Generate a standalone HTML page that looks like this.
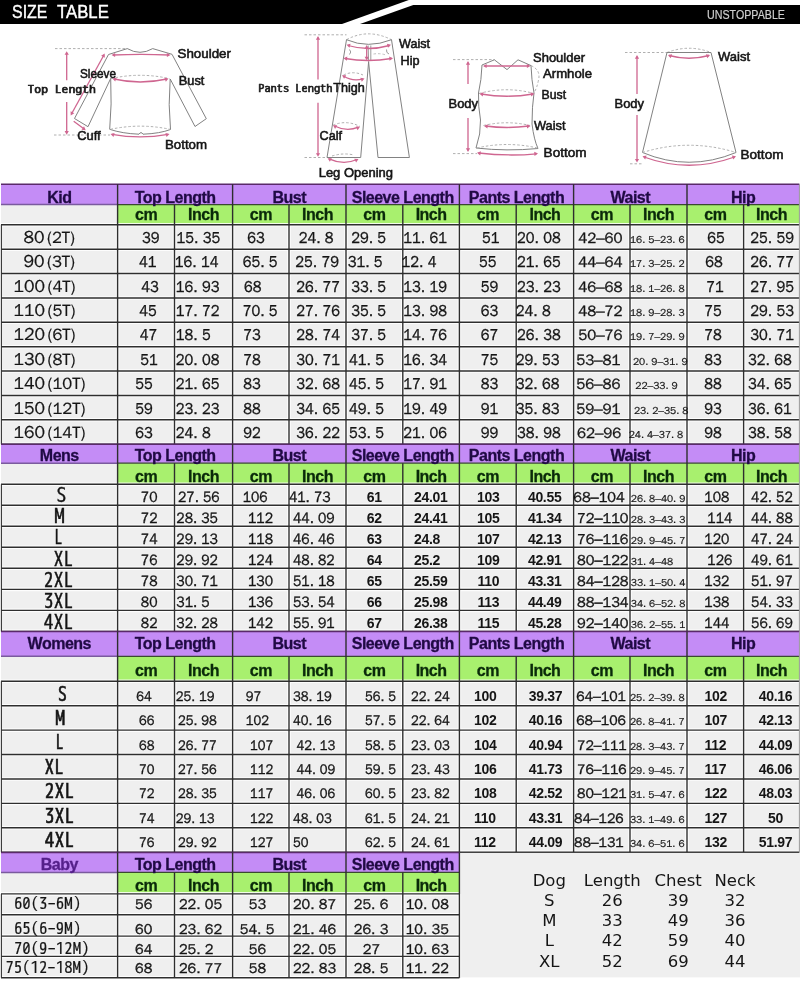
<!DOCTYPE html>
<html><head><meta charset="utf-8"><title>Size Table</title>
<style>
html,body{margin:0;padding:0;background:#fff;}
body{width:800px;height:981px;overflow:hidden;}
svg{display:block;}
text{fill:#111;}
.ttl{font-family:'Liberation Sans', Arial, sans-serif;font-size:18px;fill:#fff;stroke:#fff;stroke-width:0.4px;}
.uns{font-family:'Liberation Sans', Arial, sans-serif;font-size:13.5px;fill:#d0d0d0;stroke:#d0d0d0;stroke-width:0.2px;}
.lb{font-family:'Liberation Sans', Arial, sans-serif;font-size:12.5px;fill:#151515;stroke:#151515;stroke-width:0.55px;}
.mlb{font-family:'WenQuanYi Zen Hei Mono', 'WenQuanYi Zen Hei', 'IPAGothic', monospace;font-size:11px;fill:#1a1a1a;stroke:#1a1a1a;stroke-width:0.6px;}
.hd{font-family:'Liberation Sans', Arial, sans-serif;font-size:16px;font-weight:bold;fill:#200a44;letter-spacing:-0.5px;stroke:#200a44;stroke-width:0.3px;}
.hb{font-family:'Liberation Sans', Arial, sans-serif;font-size:16px;font-weight:bold;fill:#55208a;letter-spacing:-0.5px;stroke:#55208a;stroke-width:0.3px;}
.sh{font-family:'Liberation Sans', Arial, sans-serif;font-size:16px;font-weight:bold;fill:#0a2a0a;letter-spacing:-0.5px;stroke:#0a2a0a;stroke-width:0.3px;}
.mn{font-family:'WenQuanYi Zen Hei', 'Noto Sans CJK SC', sans-serif;font-size:16px;fill:#151515;stroke:#151515;stroke-width:0.32px;}
.mm{font-family:'WenQuanYi Zen Hei', 'Noto Sans CJK SC', sans-serif;font-size:15.2px;fill:#151515;stroke:#151515;stroke-width:0.32px;}
.wk{font-family:'WenQuanYi Zen Hei', 'Noto Sans CJK SC', sans-serif;font-size:15px;fill:#151515;stroke:#151515;stroke-width:0.32px;}
.wm{font-family:'WenQuanYi Zen Hei', 'Noto Sans CJK SC', sans-serif;font-size:14.5px;fill:#151515;stroke:#151515;stroke-width:0.32px;}
.ww{font-family:'WenQuanYi Zen Hei', 'Noto Sans CJK SC', sans-serif;font-size:14px;fill:#151515;stroke:#151515;stroke-width:0.32px;}
.mw{font-family:'WenQuanYi Zen Hei', 'Noto Sans CJK SC', sans-serif;font-size:14.1px;fill:#151515;stroke:#151515;stroke-width:0.32px;}
.mb{font-family:'WenQuanYi Zen Hei', 'Noto Sans CJK SC', sans-serif;font-size:14.4px;fill:#151515;stroke:#151515;stroke-width:0.32px;}
.ms{font-family:'WenQuanYi Zen Hei', 'Noto Sans CJK SC', sans-serif;font-size:10.2px;fill:#151515;stroke:#151515;stroke-width:0.2px;}
.bn{font-family:'Liberation Sans', Arial, sans-serif;font-size:14px;font-weight:bold;fill:#151515;letter-spacing:-0.3px;}
.kl{font-family:'WenQuanYi Zen Hei', 'Noto Sans CJK SC', sans-serif;font-size:17.5px;fill:#151515;stroke:#151515;stroke-width:0.2px;}
.ks{font-size:16.5px;}
.ml{font-family:'WenQuanYi Zen Hei Mono', 'WenQuanYi Zen Hei', 'IPAGothic', monospace;font-size:19.5px;fill:#151515;stroke:#151515;stroke-width:0.35px;}
.wl{font-family:'WenQuanYi Zen Hei Mono', 'WenQuanYi Zen Hei', 'IPAGothic', monospace;font-size:19.5px;fill:#151515;stroke:#151515;stroke-width:0.55px;}
.bl{font-family:'WenQuanYi Zen Hei Mono', 'WenQuanYi Zen Hei', 'IPAGothic', monospace;font-size:16.8px;fill:#151515;stroke:#151515;stroke-width:0.2px;}
.dg{font-family:'DejaVu Sans',sans-serif;font-size:16.5px;fill:#151515;}
</style></head>
<body>
<svg width="800" height="981" viewBox="0 0 800 981">
<rect x="0.00" y="0.00" width="800.00" height="981.00" fill="#ffffff"/>
<polygon points="0,0 408.8,0 342,24 0,24" fill="#000"/>
<polygon points="413.3,5 800,5 800,24 360,24" fill="#000"/>
<text class="ttl" y="18.2"><tspan x="12" textLength="35.5" lengthAdjust="spacingAndGlyphs">SIZE</tspan> <tspan x="57" textLength="51.8" lengthAdjust="spacingAndGlyphs">TABLE</tspan></text>
<text x="707.00" y="19.40" class="uns" textLength="78" lengthAdjust="spacingAndGlyphs">UNSTOPPABLE</text>
<path d="M55,48.6 L127.3,48.6" fill="none" stroke="#b0b0b0" stroke-width="1.0" stroke-dasharray="2.5 2"/>
<path d="M54,135 L110,135" fill="none" stroke="#b0b0b0" stroke-width="1.0" stroke-dasharray="2.5 2"/>
<path d="M127.3,48.6 Q140,56 152.7,48.6 L172,54.3 L206.3,118.7 L195,126.5 L170.2,79 Q168,105 170.5,129.5 Q160,133.5 143,134.2 Q141,131 139,134.2 Q122,133.5 109.7,129.3 Q112,104 110.7,78.4 L88,126.7 L74.5,118.5 L108.5,54.5 Z" fill="none" stroke="#828282" stroke-width="1.0" stroke-linejoin="round"/>
<path d="M111,78.6 Q140,72 169.5,78.6" fill="none" stroke="#b0b0b0" stroke-width="1.0" stroke-dasharray="2.5 2"/>
<path d="M110.5,129.3 Q140,123 170,129.3" fill="none" stroke="#b0b0b0" stroke-width="1.0" stroke-dasharray="2.5 2"/>
<path d="M113,55 Q141,53.6 169,55" fill="none" stroke="#cf6690" stroke-width="1.3"/>
<polygon points="111.50,55.00 115.14,52.90 115.14,57.10" fill="#cf6690"/>
<polygon points="170.50,55.00 166.86,57.10 166.86,52.90" fill="#cf6690"/>
<path d="M114,79 Q140,85 167,79" fill="none" stroke="#cf6690" stroke-width="1.3"/>
<polygon points="112.50,78.40 116.64,77.67 115.20,81.62" fill="#cf6690"/>
<polygon points="168.50,78.60 165.80,81.82 164.36,77.87" fill="#cf6690"/>
<path d="M112,134.3 Q140,139.5 168,134.3" fill="none" stroke="#cf6690" stroke-width="1.3"/>
<polygon points="110.50,134.00 114.56,132.91 113.47,136.97" fill="#cf6690"/>
<polygon points="169.50,134.00 166.53,136.97 165.44,132.91" fill="#cf6690"/>
<path d="M66.7,53 L66.7,80.2 M66.7,102 L66.7,133" fill="none" stroke="#cf6690" stroke-width="1.3"/>
<polygon points="66.70,51.20 68.80,54.84 64.60,54.84" fill="#cf6690"/>
<polygon points="66.70,134.70 64.60,131.06 68.80,131.06" fill="#cf6690"/>
<path d="M103.8,55.3 L71.6,113.8" fill="none" stroke="#cf6690" stroke-width="1.3"/>
<polygon points="104.70,53.50 104.79,57.70 101.11,55.68" fill="#cf6690"/>
<polygon points="70.70,115.50 70.61,111.30 74.29,113.32" fill="#cf6690"/>
<path d="M73.7,121.2 L84.5,129.2" fill="none" stroke="#cf6690" stroke-width="1.3"/>
<polygon points="85.70,130.20 81.53,129.72 84.03,126.35" fill="#cf6690"/>
<text x="177.50" y="57.80" class="lb" textLength="53.5" lengthAdjust="spacingAndGlyphs">Shoulder</text>
<text x="80.00" y="77.50" class="lb" textLength="36" lengthAdjust="spacingAndGlyphs">Sleeve</text>
<text x="178.80" y="84.80" class="lb" textLength="25.5" lengthAdjust="spacingAndGlyphs">Bust</text>
<text x="27.50" y="92.80" class="mlb" textLength="68.2" lengthAdjust="spacingAndGlyphs">Top Length</text>
<text x="77.20" y="140.20" class="lb" textLength="23.5" lengthAdjust="spacingAndGlyphs">Cuff</text>
<text x="165.00" y="149.00" class="lb" textLength="42" lengthAdjust="spacingAndGlyphs">Bottom</text>
<path d="M304.5,34.8 L346.5,34.8" fill="none" stroke="#b0b0b0" stroke-width="1.0" stroke-dasharray="2.5 2"/>
<path d="M304.5,157.5 L327.5,157.5" fill="none" stroke="#b0b0b0" stroke-width="1.0" stroke-dasharray="2.5 2"/>
<path d="M346.5,39.7 Q368,28 391.5,39.7" fill="none" stroke="#b0b0b0" stroke-width="1.0" stroke-dasharray="2.5 2"/>
<path d="M346.5,39.7 Q368,49 391.5,39.7" fill="none" stroke="#828282" stroke-width="1.0" stroke-linejoin="round"/>
<path d="M346.5,39.7 L327,157.5 L360.7,157.5 L368.6,61.8 L378,157.5 L409.4,157.5 L391.5,39.7" fill="none" stroke="#828282" stroke-width="1.0" stroke-linejoin="round"/>
<path d="M368.2,45.5 L368.6,61.8 M370.8,45.5 L370.8,61" fill="none" stroke="#828282" stroke-width="0.8" stroke-linejoin="round"/>
<path d="M349.5,49.5 Q352,52 349.5,54.5" fill="none" stroke="#828282" stroke-width="0.8" stroke-linejoin="round"/>
<path d="M386.5,49.5 Q386,53 389,54" fill="none" stroke="#828282" stroke-width="0.8" stroke-linejoin="round"/>
<path d="M373.5,54 Q380,53 386,55" fill="none" stroke="#b0b0b0" stroke-width="0.8" stroke-dasharray="2.5 2"/>
<path d="M343.5,75 Q353,70.5 363,75" fill="none" stroke="#b0b0b0" stroke-width="1.0" stroke-dasharray="2.5 2"/>
<path d="M333,125.2 Q346.5,119.5 360,126.5" fill="none" stroke="#b0b0b0" stroke-width="1.0" stroke-dasharray="2.5 2"/>
<path d="M332,156 Q343,152.5 354,155" fill="none" stroke="#b0b0b0" stroke-width="1.0" stroke-dasharray="2.5 2"/>
<path d="M348,45.5 Q368,51.5 389.5,45.5" fill="none" stroke="#cf6690" stroke-width="1.3"/>
<polygon points="346.50,44.80 350.56,43.71 349.47,47.77" fill="#cf6690"/>
<polygon points="391.00,44.80 388.03,47.77 386.94,43.71" fill="#cf6690"/>
<path d="M345,58.5 Q368,62.5 391.5,58.5" fill="none" stroke="#cf6690" stroke-width="1.3"/>
<polygon points="343.50,58.30 347.31,56.53 346.94,60.71" fill="#cf6690"/>
<polygon points="393.00,58.30 389.56,60.71 389.19,56.53" fill="#cf6690"/>
<path d="M366.7,46.5 L366.7,59" fill="none" stroke="#cf6690" stroke-width="1.3"/>
<polygon points="366.70,45.00 368.80,48.64 364.60,48.64" fill="#cf6690"/>
<polygon points="366.70,60.50 364.60,56.86 368.80,56.86" fill="#cf6690"/>
<path d="M343.5,76 Q353,82 363,78.8" fill="none" stroke="#cf6690" stroke-width="1.3"/>
<polygon points="342.00,75.20 346.20,75.20 344.10,78.84" fill="#cf6690"/>
<polygon points="364.50,78.50 361.80,81.72 360.36,77.77" fill="#cf6690"/>
<path d="M334.5,126 Q346.5,132 358.5,127.2" fill="none" stroke="#cf6690" stroke-width="1.3"/>
<polygon points="333.00,125.30 337.20,125.30 335.10,128.94" fill="#cf6690"/>
<polygon points="360.00,126.80 357.59,130.24 355.82,126.43" fill="#cf6690"/>
<path d="M329,158.8 Q343.5,165.5 357,159.5" fill="none" stroke="#cf6690" stroke-width="1.3"/>
<polygon points="327.70,158.20 331.90,158.20 329.80,161.84" fill="#cf6690"/>
<polygon points="358.50,159.00 356.09,162.44 354.32,158.63" fill="#cf6690"/>
<path d="M318,37.5 L318,79.6 M318,102.8 L318,155" fill="none" stroke="#cf6690" stroke-width="1.3"/>
<polygon points="318.00,36.00 320.10,39.64 315.90,39.64" fill="#cf6690"/>
<polygon points="318.00,156.80 315.90,153.16 320.10,153.16" fill="#cf6690"/>
<text x="399.00" y="48.20" class="lb" textLength="31" lengthAdjust="spacingAndGlyphs">Waist</text>
<text x="400.50" y="64.60" class="lb" textLength="19" lengthAdjust="spacingAndGlyphs">Hip</text>
<text x="258.20" y="91.70" class="mlb" textLength="74.3" lengthAdjust="spacingAndGlyphs">Pants Length</text>
<text x="333.20" y="91.70" class="lb" textLength="31.5" lengthAdjust="spacingAndGlyphs">Thigh</text>
<text x="319.50" y="140.20" class="lb" textLength="22.5" lengthAdjust="spacingAndGlyphs">Calf</text>
<text x="318.70" y="177.00" class="lb" textLength="74.3" lengthAdjust="spacingAndGlyphs">Leg Opening</text>
<path d="M453,59.6 L494.4,59.6" fill="none" stroke="#b0b0b0" stroke-width="1.0" stroke-dasharray="2.5 2"/>
<path d="M453,153.6 L477,153.6" fill="none" stroke="#b0b0b0" stroke-width="1.0" stroke-dasharray="2.5 2"/>
<path d="M494.4,59.8 L507,69.6 L518,59.8 L531,65.6 Q531.5,80 534,93 Q532,106 532,124 Q534,140 538,148.5 Q507,151.5 476,148 Q481,134 480.5,120 Q478,106 478.5,93 Q481.5,80 482,65 Z" fill="none" stroke="#828282" stroke-width="1.0" stroke-linejoin="round"/>
<path d="M531,65.6 Q541,70 538.5,80 Q537,88 534.3,92" fill="none" stroke="#b0b0b0" stroke-width="1.0" stroke-dasharray="2.5 2"/>
<path d="M479,93.5 Q507,86 534,93.5" fill="none" stroke="#b0b0b0" stroke-width="1.0" stroke-dasharray="2.5 2"/>
<path d="M483.5,125.5 Q507,120 530,125.5" fill="none" stroke="#b0b0b0" stroke-width="1.0" stroke-dasharray="2.5 2"/>
<path d="M477,148 Q507,141 537.5,148" fill="none" stroke="#b0b0b0" stroke-width="1.0" stroke-dasharray="2.5 2"/>
<path d="M484.5,66 L529,66" fill="none" stroke="#cf6690" stroke-width="1.3"/>
<polygon points="483.00,66.00 486.64,63.90 486.64,68.10" fill="#cf6690"/>
<polygon points="530.50,66.00 526.86,68.10 526.86,63.90" fill="#cf6690"/>
<path d="M481,94 Q507,98.5 533,94" fill="none" stroke="#cf6690" stroke-width="1.3"/>
<polygon points="479.50,93.80 483.45,92.36 482.72,96.50" fill="#cf6690"/>
<polygon points="534.50,93.80 531.28,96.50 530.55,92.36" fill="#cf6690"/>
<path d="M485.5,126 Q507,129 529,126" fill="none" stroke="#cf6690" stroke-width="1.3"/>
<polygon points="484.00,126.00 487.81,124.23 487.44,128.41" fill="#cf6690"/>
<polygon points="530.50,126.00 527.06,128.41 526.69,124.23" fill="#cf6690"/>
<path d="M478.5,153 Q508,156.5 536.5,153.8" fill="none" stroke="#cf6690" stroke-width="1.3"/>
<polygon points="477.00,152.80 480.95,151.36 480.22,155.50" fill="#cf6690"/>
<polygon points="538.00,153.60 534.56,156.01 534.19,151.83" fill="#cf6690"/>
<path d="M468,62.5 L468,84 M468,118 L468,150.5" fill="none" stroke="#cf6690" stroke-width="1.3"/>
<polygon points="468.00,61.00 470.10,64.64 465.90,64.64" fill="#cf6690"/>
<polygon points="468.00,152.00 465.90,148.36 470.10,148.36" fill="#cf6690"/>
<text x="533.00" y="62.20" class="lb" textLength="52" lengthAdjust="spacingAndGlyphs">Shoulder</text>
<text x="543.00" y="77.60" class="lb" textLength="49" lengthAdjust="spacingAndGlyphs">Armhole</text>
<text x="541.60" y="99.20" class="lb" textLength="24.5" lengthAdjust="spacingAndGlyphs">Bust</text>
<text x="448.50" y="108.20" class="lb" textLength="29.5" lengthAdjust="spacingAndGlyphs">Body</text>
<text x="534.00" y="129.80" class="lb" textLength="31.5" lengthAdjust="spacingAndGlyphs">Waist</text>
<text x="543.60" y="157.20" class="lb" textLength="43" lengthAdjust="spacingAndGlyphs">Bottom</text>
<path d="M625,52.5 L667,52.5" fill="none" stroke="#b0b0b0" stroke-width="1.0" stroke-dasharray="2.5 2"/>
<path d="M630,163.8 L642.5,163.8" fill="none" stroke="#b0b0b0" stroke-width="1.0" stroke-dasharray="2.5 2"/>
<path d="M667,52.5 Q689,44 711,52.5" fill="none" stroke="#b0b0b0" stroke-width="1.0" stroke-dasharray="2.5 2"/>
<path d="M667,52.5 L711,52.5 L736,152.5 Q689,172 642.5,152.5 Z" fill="none" stroke="#828282" stroke-width="1.0" stroke-linejoin="round"/>
<path d="M642.5,152.5 Q689,138 736,152.5" fill="none" stroke="#b0b0b0" stroke-width="1.0" stroke-dasharray="2.5 2"/>
<path d="M669,55.5 Q689,61 709,55.5" fill="none" stroke="#cf6690" stroke-width="1.3"/>
<polygon points="668.00,55.00 672.14,54.27 670.70,58.22" fill="#cf6690"/>
<polygon points="710.00,55.00 707.30,58.22 705.86,54.27" fill="#cf6690"/>
<path d="M644,157 Q689,173.5 734.5,157" fill="none" stroke="#cf6690" stroke-width="1.3"/>
<polygon points="642.50,156.30 646.64,155.57 645.20,159.52" fill="#cf6690"/>
<polygon points="736.00,156.30 733.30,159.52 731.86,155.57" fill="#cf6690"/>
<path d="M637,56.5 L637,94 M637,115 L637,161" fill="none" stroke="#cf6690" stroke-width="1.3"/>
<polygon points="637.00,55.00 639.10,58.64 634.90,58.64" fill="#cf6690"/>
<polygon points="637.00,162.60 634.90,158.96 639.10,158.96" fill="#cf6690"/>
<text x="718.00" y="61.40" class="lb" textLength="32" lengthAdjust="spacingAndGlyphs">Waist</text>
<text x="614.50" y="107.60" class="lb" textLength="29.5" lengthAdjust="spacingAndGlyphs">Body</text>
<text x="740.50" y="158.80" class="lb" textLength="43" lengthAdjust="spacingAndGlyphs">Bottom</text>
<rect x="1.00" y="184.20" width="798.40" height="20.40" fill="#c48cf6"/>
<rect x="1.00" y="204.60" width="116.60" height="20.20" fill="#efefef"/>
<rect x="117.60" y="204.60" width="681.80" height="20.20" fill="#a8f06e"/>
<rect x="1.00" y="224.80" width="798.40" height="219.40" fill="#efefef"/>
<path d="M1.00,224.80H799.40 M1.00,249.18H799.40 M1.00,273.56H799.40 M1.00,297.93H799.40 M1.00,322.31H799.40 M1.00,346.69H799.40 M1.00,371.07H799.40 M1.00,395.44H799.40 M1.00,419.82H799.40 M1.00,444.20H799.40 M117.60,224.80V444.20 M232.60,224.80V444.20 M346.00,224.80V444.20 M459.40,224.80V444.20 M573.60,224.80V444.20 M687.00,224.80V444.20 M174.50,224.80V444.20 M289.00,224.80V444.20 M402.80,224.80V444.20 M516.20,224.80V444.20 M630.00,224.80V444.20 M743.60,224.80V444.20" stroke="#ffffff" stroke-width="3.6" opacity="0.85" fill="none"/>
<line x1="1.00" y1="184.20" x2="799.40" y2="184.20" stroke="#5a2a6a" stroke-width="1.5"/>
<line x1="1.00" y1="204.60" x2="117.60" y2="204.60" stroke="#7a5a9e" stroke-width="1.5"/>
<line x1="117.60" y1="204.60" x2="799.40" y2="204.60" stroke="#3a4a30" stroke-width="1.3"/>
<line x1="1.00" y1="224.80" x2="799.40" y2="224.80" stroke="#2e2e2e" stroke-width="1.4"/>
<line x1="1.00" y1="249.18" x2="799.40" y2="249.18" stroke="#2e2e2e" stroke-width="1.4"/>
<line x1="1.00" y1="273.56" x2="799.40" y2="273.56" stroke="#2e2e2e" stroke-width="1.4"/>
<line x1="1.00" y1="297.93" x2="799.40" y2="297.93" stroke="#2e2e2e" stroke-width="1.4"/>
<line x1="1.00" y1="322.31" x2="799.40" y2="322.31" stroke="#2e2e2e" stroke-width="1.4"/>
<line x1="1.00" y1="346.69" x2="799.40" y2="346.69" stroke="#2e2e2e" stroke-width="1.4"/>
<line x1="1.00" y1="371.07" x2="799.40" y2="371.07" stroke="#2e2e2e" stroke-width="1.4"/>
<line x1="1.00" y1="395.44" x2="799.40" y2="395.44" stroke="#2e2e2e" stroke-width="1.4"/>
<line x1="1.00" y1="419.82" x2="799.40" y2="419.82" stroke="#2e2e2e" stroke-width="1.4"/>
<line x1="1.00" y1="444.20" x2="799.40" y2="444.20" stroke="#2e2e2e" stroke-width="1.4"/>
<line x1="1.40" y1="224.80" x2="1.40" y2="444.20" stroke="#333" stroke-width="1.1"/>
<line x1="117.60" y1="184.20" x2="117.60" y2="444.20" stroke="#2e2e2e" stroke-width="1.4"/>
<line x1="232.60" y1="184.20" x2="232.60" y2="444.20" stroke="#2e2e2e" stroke-width="1.4"/>
<line x1="346.00" y1="184.20" x2="346.00" y2="444.20" stroke="#2e2e2e" stroke-width="1.4"/>
<line x1="459.40" y1="184.20" x2="459.40" y2="444.20" stroke="#2e2e2e" stroke-width="1.4"/>
<line x1="573.60" y1="184.20" x2="573.60" y2="444.20" stroke="#2e2e2e" stroke-width="1.4"/>
<line x1="687.00" y1="184.20" x2="687.00" y2="444.20" stroke="#2e2e2e" stroke-width="1.4"/>
<line x1="799.40" y1="184.20" x2="799.40" y2="444.20" stroke="#999" stroke-width="1.0"/>
<line x1="174.50" y1="204.60" x2="174.50" y2="444.20" stroke="#2e2e2e" stroke-width="1.4"/>
<line x1="289.00" y1="204.60" x2="289.00" y2="444.20" stroke="#2e2e2e" stroke-width="1.4"/>
<line x1="402.80" y1="204.60" x2="402.80" y2="444.20" stroke="#2e2e2e" stroke-width="1.4"/>
<line x1="516.20" y1="204.60" x2="516.20" y2="444.20" stroke="#2e2e2e" stroke-width="1.4"/>
<line x1="630.00" y1="204.60" x2="630.00" y2="444.20" stroke="#2e2e2e" stroke-width="1.4"/>
<line x1="743.60" y1="204.60" x2="743.60" y2="444.20" stroke="#2e2e2e" stroke-width="1.4"/>
<text x="59.30" y="203.20" text-anchor="middle" class="hd">Kid</text>
<text x="175.10" y="203.20" text-anchor="middle" class="hd">Top Length</text>
<text x="146.05" y="219.80" text-anchor="middle" class="sh">cm</text>
<text x="203.55" y="219.80" text-anchor="middle" class="sh">Inch</text>
<text x="289.30" y="203.20" text-anchor="middle" class="hd">Bust</text>
<text x="260.80" y="219.80" text-anchor="middle" class="sh">cm</text>
<text x="317.50" y="219.80" text-anchor="middle" class="sh">Inch</text>
<text x="402.70" y="203.20" text-anchor="middle" class="hd">Sleeve Length</text>
<text x="374.40" y="219.80" text-anchor="middle" class="sh">cm</text>
<text x="431.10" y="219.80" text-anchor="middle" class="sh">Inch</text>
<text x="516.50" y="203.20" text-anchor="middle" class="hd">Pants Length</text>
<text x="487.80" y="219.80" text-anchor="middle" class="sh">cm</text>
<text x="544.90" y="219.80" text-anchor="middle" class="sh">Inch</text>
<text x="630.30" y="203.20" text-anchor="middle" class="hd">Waist</text>
<text x="601.80" y="219.80" text-anchor="middle" class="sh">cm</text>
<text x="658.50" y="219.80" text-anchor="middle" class="sh">Inch</text>
<text x="743.20" y="203.20" text-anchor="middle" class="hd">Hip</text>
<text x="715.30" y="219.80" text-anchor="middle" class="sh">cm</text>
<text x="771.50" y="219.80" text-anchor="middle" class="sh">Inch</text>
<text x="23.40" y="242.88" class="kl">80<tspan class="ks" dx="2.6">(2T)</tspan></text>
<text transform="translate(142.10,242.88) scale(0.91,1)" class="mn">39</text>
<text transform="translate(176.60,242.88) scale(0.91,1)" class="mn">15. 35</text>
<text transform="translate(247.30,242.88) scale(0.91,1)" class="mn">63</text>
<text transform="translate(298.70,242.88) scale(0.91,1)" class="mn">24. 8</text>
<text transform="translate(351.20,242.88) scale(0.91,1)" class="mn">29. 5</text>
<text transform="translate(403.30,242.88) scale(0.91,1)" class="mn">11. 61</text>
<text transform="translate(482.10,242.88) scale(0.91,1)" class="mn">51</text>
<text transform="translate(517.10,242.88) scale(0.91,1)" class="mn">20. 08</text>
<text x="578.30" y="242.88" class="wk">42–60</text>
<text x="630.00" y="242.88" class="ms">16. 5–23. 6</text>
<text transform="translate(707.30,242.88) scale(0.91,1)" class="mn">65</text>
<text transform="translate(750.30,242.88) scale(0.91,1)" class="mn">25. 59</text>
<text x="23.40" y="267.26" class="kl">90<tspan class="ks" dx="2.6">(3T)</tspan></text>
<text transform="translate(139.00,267.26) scale(0.91,1)" class="mn">41</text>
<text transform="translate(174.80,267.26) scale(0.91,1)" class="mn">16. 14</text>
<text transform="translate(242.70,267.26) scale(0.91,1)" class="mn">65. 5</text>
<text transform="translate(295.30,267.26) scale(0.91,1)" class="mn">25. 79</text>
<text transform="translate(347.70,267.26) scale(0.91,1)" class="mn">31. 5</text>
<text transform="translate(401.50,267.26) scale(0.91,1)" class="mn">12. 4</text>
<text transform="translate(479.00,267.26) scale(0.91,1)" class="mn">55</text>
<text transform="translate(517.10,267.26) scale(0.91,1)" class="mn">21. 65</text>
<text x="578.30" y="267.26" class="wk">44–64</text>
<text x="630.00" y="267.26" class="ms">17. 3–25. 2</text>
<text transform="translate(705.30,267.26) scale(0.91,1)" class="mn">68</text>
<text transform="translate(750.30,267.26) scale(0.91,1)" class="mn">26. 77</text>
<text x="13.40" y="291.63" class="kl">100<tspan class="ks" dx="2.6">(4T)</tspan></text>
<text transform="translate(141.30,291.63) scale(0.91,1)" class="mn">43</text>
<text transform="translate(175.80,291.63) scale(0.91,1)" class="mn">16. 93</text>
<text transform="translate(244.00,291.63) scale(0.91,1)" class="mn">68</text>
<text transform="translate(296.30,291.63) scale(0.91,1)" class="mn">26. 77</text>
<text transform="translate(351.20,291.63) scale(0.91,1)" class="mn">33. 5</text>
<text transform="translate(403.30,291.63) scale(0.91,1)" class="mn">13. 19</text>
<text transform="translate(480.80,291.63) scale(0.91,1)" class="mn">59</text>
<text transform="translate(517.10,291.63) scale(0.91,1)" class="mn">23. 23</text>
<text x="578.30" y="291.63" class="wk">46–68</text>
<text x="630.00" y="291.63" class="ms">18. 1–26. 8</text>
<text transform="translate(706.30,291.63) scale(0.91,1)" class="mn">71</text>
<text transform="translate(750.30,291.63) scale(0.91,1)" class="mn">27. 95</text>
<text x="13.40" y="316.01" class="kl">110<tspan class="ks" dx="2.6">(5T)</tspan></text>
<text transform="translate(139.30,316.01) scale(0.91,1)" class="mn">45</text>
<text transform="translate(175.80,316.01) scale(0.91,1)" class="mn">17. 72</text>
<text transform="translate(242.70,316.01) scale(0.91,1)" class="mn">70. 5</text>
<text transform="translate(296.30,316.01) scale(0.91,1)" class="mn">27. 76</text>
<text transform="translate(351.20,316.01) scale(0.91,1)" class="mn">35. 5</text>
<text transform="translate(403.30,316.01) scale(0.91,1)" class="mn">13. 98</text>
<text transform="translate(480.80,316.01) scale(0.91,1)" class="mn">63</text>
<text transform="translate(515.80,316.01) scale(0.91,1)" class="mn">24. 8</text>
<text x="578.30" y="316.01" class="wk">48–72</text>
<text x="630.00" y="316.01" class="ms">18. 9–28. 3</text>
<text transform="translate(704.30,316.01) scale(0.91,1)" class="mn">75</text>
<text transform="translate(750.30,316.01) scale(0.91,1)" class="mn">29. 53</text>
<text x="13.40" y="340.39" class="kl">120<tspan class="ks" dx="2.6">(6T)</tspan></text>
<text transform="translate(139.80,340.39) scale(0.91,1)" class="mn">47</text>
<text transform="translate(175.80,340.39) scale(0.91,1)" class="mn">18. 5</text>
<text transform="translate(243.30,340.39) scale(0.91,1)" class="mn">73</text>
<text transform="translate(296.30,340.39) scale(0.91,1)" class="mn">28. 74</text>
<text transform="translate(351.20,340.39) scale(0.91,1)" class="mn">37. 5</text>
<text transform="translate(403.30,340.39) scale(0.91,1)" class="mn">14. 76</text>
<text transform="translate(480.80,340.39) scale(0.91,1)" class="mn">67</text>
<text transform="translate(517.10,340.39) scale(0.91,1)" class="mn">26. 38</text>
<text x="578.30" y="340.39" class="wk">50–76</text>
<text x="630.00" y="340.39" class="ms">19. 7–29. 9</text>
<text transform="translate(704.30,340.39) scale(0.91,1)" class="mn">78</text>
<text transform="translate(750.30,340.39) scale(0.91,1)" class="mn">30. 71</text>
<text x="13.40" y="364.77" class="kl">130<tspan class="ks" dx="2.6">(8T)</tspan></text>
<text transform="translate(140.30,364.77) scale(0.91,1)" class="mn">51</text>
<text transform="translate(175.80,364.77) scale(0.91,1)" class="mn">20. 08</text>
<text transform="translate(243.30,364.77) scale(0.91,1)" class="mn">78</text>
<text transform="translate(296.30,364.77) scale(0.91,1)" class="mn">30. 71</text>
<text transform="translate(349.00,364.77) scale(0.91,1)" class="mn">41. 5</text>
<text transform="translate(403.30,364.77) scale(0.91,1)" class="mn">16. 34</text>
<text transform="translate(480.80,364.77) scale(0.91,1)" class="mn">75</text>
<text transform="translate(515.80,364.77) scale(0.91,1)" class="mn">29. 53</text>
<text x="576.20" y="364.77" class="wk">53–81</text>
<text x="633.00" y="364.77" class="ms">20. 9–31. 9</text>
<text transform="translate(704.30,364.77) scale(0.91,1)" class="mn">83</text>
<text transform="translate(748.10,364.77) scale(0.91,1)" class="mn">32. 68</text>
<text x="13.40" y="389.14" class="kl">140<tspan class="ks" dx="2.6">(10T)</tspan></text>
<text transform="translate(135.30,389.14) scale(0.91,1)" class="mn">55</text>
<text transform="translate(175.80,389.14) scale(0.91,1)" class="mn">21. 65</text>
<text transform="translate(243.30,389.14) scale(0.91,1)" class="mn">83</text>
<text transform="translate(296.30,389.14) scale(0.91,1)" class="mn">32. 68</text>
<text transform="translate(349.00,389.14) scale(0.91,1)" class="mn">45. 5</text>
<text transform="translate(403.30,389.14) scale(0.91,1)" class="mn">17. 91</text>
<text transform="translate(480.80,389.14) scale(0.91,1)" class="mn">83</text>
<text transform="translate(515.80,389.14) scale(0.91,1)" class="mn">32. 68</text>
<text x="576.20" y="389.14" class="wk">56–86</text>
<text x="635.30" y="389.14" class="ms">22–33. 9</text>
<text transform="translate(704.30,389.14) scale(0.91,1)" class="mn">88</text>
<text transform="translate(748.10,389.14) scale(0.91,1)" class="mn">34. 65</text>
<text x="13.40" y="413.52" class="kl">150<tspan class="ks" dx="2.6">(12T)</tspan></text>
<text transform="translate(135.30,413.52) scale(0.91,1)" class="mn">59</text>
<text transform="translate(175.80,413.52) scale(0.91,1)" class="mn">23. 23</text>
<text transform="translate(243.30,413.52) scale(0.91,1)" class="mn">88</text>
<text transform="translate(296.30,413.52) scale(0.91,1)" class="mn">34. 65</text>
<text transform="translate(349.00,413.52) scale(0.91,1)" class="mn">49. 5</text>
<text transform="translate(403.30,413.52) scale(0.91,1)" class="mn">19. 49</text>
<text transform="translate(480.80,413.52) scale(0.91,1)" class="mn">91</text>
<text transform="translate(515.80,413.52) scale(0.91,1)" class="mn">35. 83</text>
<text x="576.20" y="413.52" class="wk">59–91</text>
<text x="633.90" y="413.52" class="ms">23. 2–35. 8</text>
<text transform="translate(704.30,413.52) scale(0.91,1)" class="mn">93</text>
<text transform="translate(748.10,413.52) scale(0.91,1)" class="mn">36. 61</text>
<text x="13.40" y="437.90" class="kl">160<tspan class="ks" dx="2.6">(14T)</tspan></text>
<text transform="translate(135.30,437.90) scale(0.91,1)" class="mn">63</text>
<text transform="translate(175.80,437.90) scale(0.91,1)" class="mn">24. 8</text>
<text transform="translate(243.30,437.90) scale(0.91,1)" class="mn">92</text>
<text transform="translate(296.30,437.90) scale(0.91,1)" class="mn">36. 22</text>
<text transform="translate(349.00,437.90) scale(0.91,1)" class="mn">53. 5</text>
<text transform="translate(403.30,437.90) scale(0.91,1)" class="mn">21. 06</text>
<text transform="translate(480.80,437.90) scale(0.91,1)" class="mn">99</text>
<text transform="translate(517.10,437.90) scale(0.91,1)" class="mn">38. 98</text>
<text x="577.00" y="437.90" class="wk">62–96</text>
<text x="628.70" y="437.90" class="ms">24. 4–37. 8</text>
<text transform="translate(704.30,437.90) scale(0.91,1)" class="mn">98</text>
<text transform="translate(748.10,437.90) scale(0.91,1)" class="mn">38. 58</text>
<rect x="1.00" y="444.20" width="798.40" height="19.00" fill="#c48cf6"/>
<rect x="1.00" y="463.20" width="116.60" height="21.00" fill="#efefef"/>
<rect x="117.60" y="463.20" width="681.80" height="21.00" fill="#a8f06e"/>
<rect x="1.00" y="484.20" width="798.40" height="147.20" fill="#efefef"/>
<path d="M1.00,484.20H799.40 M1.00,505.23H799.40 M1.00,526.26H799.40 M1.00,547.29H799.40 M1.00,568.31H799.40 M1.00,589.34H799.40 M1.00,610.37H799.40 M1.00,631.40H799.40 M117.60,484.20V631.40 M232.60,484.20V631.40 M346.00,484.20V631.40 M459.40,484.20V631.40 M573.60,484.20V631.40 M687.00,484.20V631.40 M174.50,484.20V631.40 M289.00,484.20V631.40 M402.80,484.20V631.40 M516.20,484.20V631.40 M630.00,484.20V631.40 M743.60,484.20V631.40" stroke="#ffffff" stroke-width="3.6" opacity="0.85" fill="none"/>
<line x1="1.00" y1="444.20" x2="799.40" y2="444.20" stroke="#5a2a6a" stroke-width="1.5"/>
<line x1="1.00" y1="463.20" x2="117.60" y2="463.20" stroke="#7a5a9e" stroke-width="1.5"/>
<line x1="117.60" y1="463.20" x2="799.40" y2="463.20" stroke="#3a4a30" stroke-width="1.3"/>
<line x1="1.00" y1="484.20" x2="799.40" y2="484.20" stroke="#2e2e2e" stroke-width="1.4"/>
<line x1="1.00" y1="505.23" x2="799.40" y2="505.23" stroke="#2e2e2e" stroke-width="1.4"/>
<line x1="1.00" y1="526.26" x2="799.40" y2="526.26" stroke="#2e2e2e" stroke-width="1.4"/>
<line x1="1.00" y1="547.29" x2="799.40" y2="547.29" stroke="#2e2e2e" stroke-width="1.4"/>
<line x1="1.00" y1="568.31" x2="799.40" y2="568.31" stroke="#2e2e2e" stroke-width="1.4"/>
<line x1="1.00" y1="589.34" x2="799.40" y2="589.34" stroke="#2e2e2e" stroke-width="1.4"/>
<line x1="1.00" y1="610.37" x2="799.40" y2="610.37" stroke="#2e2e2e" stroke-width="1.4"/>
<line x1="1.00" y1="631.40" x2="799.40" y2="631.40" stroke="#2e2e2e" stroke-width="1.4"/>
<line x1="1.40" y1="484.20" x2="1.40" y2="631.40" stroke="#333" stroke-width="1.1"/>
<line x1="117.60" y1="444.20" x2="117.60" y2="631.40" stroke="#2e2e2e" stroke-width="1.4"/>
<line x1="232.60" y1="444.20" x2="232.60" y2="631.40" stroke="#2e2e2e" stroke-width="1.4"/>
<line x1="346.00" y1="444.20" x2="346.00" y2="631.40" stroke="#2e2e2e" stroke-width="1.4"/>
<line x1="459.40" y1="444.20" x2="459.40" y2="631.40" stroke="#2e2e2e" stroke-width="1.4"/>
<line x1="573.60" y1="444.20" x2="573.60" y2="631.40" stroke="#2e2e2e" stroke-width="1.4"/>
<line x1="687.00" y1="444.20" x2="687.00" y2="631.40" stroke="#2e2e2e" stroke-width="1.4"/>
<line x1="799.40" y1="444.20" x2="799.40" y2="631.40" stroke="#999" stroke-width="1.0"/>
<line x1="174.50" y1="463.20" x2="174.50" y2="631.40" stroke="#2e2e2e" stroke-width="1.4"/>
<line x1="289.00" y1="463.20" x2="289.00" y2="631.40" stroke="#2e2e2e" stroke-width="1.4"/>
<line x1="402.80" y1="463.20" x2="402.80" y2="631.40" stroke="#2e2e2e" stroke-width="1.4"/>
<line x1="516.20" y1="463.20" x2="516.20" y2="631.40" stroke="#2e2e2e" stroke-width="1.4"/>
<line x1="630.00" y1="463.20" x2="630.00" y2="631.40" stroke="#2e2e2e" stroke-width="1.4"/>
<line x1="743.60" y1="463.20" x2="743.60" y2="631.40" stroke="#2e2e2e" stroke-width="1.4"/>
<text x="59.30" y="461.30" text-anchor="middle" class="hd">Mens</text>
<text x="175.10" y="461.30" text-anchor="middle" class="hd">Top Length</text>
<text x="146.05" y="482.00" text-anchor="middle" class="sh">cm</text>
<text x="203.55" y="482.00" text-anchor="middle" class="sh">Inch</text>
<text x="289.30" y="461.30" text-anchor="middle" class="hd">Bust</text>
<text x="260.80" y="482.00" text-anchor="middle" class="sh">cm</text>
<text x="317.50" y="482.00" text-anchor="middle" class="sh">Inch</text>
<text x="402.70" y="461.30" text-anchor="middle" class="hd">Sleeve Length</text>
<text x="374.40" y="482.00" text-anchor="middle" class="sh">cm</text>
<text x="431.10" y="482.00" text-anchor="middle" class="sh">Inch</text>
<text x="516.50" y="461.30" text-anchor="middle" class="hd">Pants Length</text>
<text x="487.80" y="482.00" text-anchor="middle" class="sh">cm</text>
<text x="544.90" y="482.00" text-anchor="middle" class="sh">Inch</text>
<text x="630.30" y="461.30" text-anchor="middle" class="hd">Waist</text>
<text x="601.80" y="482.00" text-anchor="middle" class="sh">cm</text>
<text x="658.50" y="482.00" text-anchor="middle" class="sh">Inch</text>
<text x="743.20" y="461.30" text-anchor="middle" class="hd">Hip</text>
<text x="715.30" y="482.00" text-anchor="middle" class="sh">cm</text>
<text x="771.50" y="482.00" text-anchor="middle" class="sh">Inch</text>
<text x="56.20" y="502.43" class="ml" textLength="10.2" lengthAdjust="spacingAndGlyphs">S</text>
<text transform="translate(140.80,502.23) scale(0.915,1)" class="mm">70</text>
<text transform="translate(178.00,502.23) scale(0.915,1)" class="mm">27. 56</text>
<text transform="translate(242.70,502.23) scale(0.915,1)" class="mm">106</text>
<text transform="translate(288.90,502.23) scale(0.915,1)" class="mm">41. 73</text>
<text x="374.30" y="502.23" text-anchor="middle" class="bn">61</text>
<text x="414.00" y="502.23" class="bn">24.01</text>
<text x="488.30" y="502.23" text-anchor="middle" class="bn">103</text>
<text x="527.90" y="502.23" class="bn">40.55</text>
<text x="573.20" y="502.23" class="wm">68–104</text>
<text x="630.80" y="502.23" class="ms">26. 8–40. 9</text>
<text transform="translate(704.30,502.23) scale(0.915,1)" class="mm">108</text>
<text transform="translate(751.10,502.23) scale(0.915,1)" class="mm">42. 52</text>
<text x="54.20" y="523.46" class="ml" textLength="10.5" lengthAdjust="spacingAndGlyphs">M</text>
<text transform="translate(140.80,523.26) scale(0.915,1)" class="mm">72</text>
<text transform="translate(176.30,523.26) scale(0.915,1)" class="mm">28. 35</text>
<text transform="translate(248.00,523.26) scale(0.915,1)" class="mm">112</text>
<text transform="translate(293.00,523.26) scale(0.915,1)" class="mm">44. 09</text>
<text x="374.30" y="523.26" text-anchor="middle" class="bn">62</text>
<text x="414.00" y="523.26" class="bn">24.41</text>
<text x="488.30" y="523.26" text-anchor="middle" class="bn">105</text>
<text x="527.90" y="523.26" class="bn">41.34</text>
<text x="577.00" y="523.26" class="wm">72–110</text>
<text x="630.80" y="523.26" class="ms">28. 3–43. 3</text>
<text transform="translate(707.30,523.26) scale(0.915,1)" class="mm">114</text>
<text transform="translate(751.10,523.26) scale(0.915,1)" class="mm">44. 88</text>
<text x="54.20" y="544.49" class="ml" textLength="8.6" lengthAdjust="spacingAndGlyphs">L</text>
<text transform="translate(140.80,544.29) scale(0.915,1)" class="mm">74</text>
<text transform="translate(176.30,544.29) scale(0.915,1)" class="mm">29. 13</text>
<text transform="translate(248.00,544.29) scale(0.915,1)" class="mm">118</text>
<text transform="translate(293.00,544.29) scale(0.915,1)" class="mm">46. 46</text>
<text x="374.30" y="544.29" text-anchor="middle" class="bn">63</text>
<text x="414.00" y="544.29" class="bn">24.8</text>
<text x="488.30" y="544.29" text-anchor="middle" class="bn">107</text>
<text x="527.90" y="544.29" class="bn">42.13</text>
<text x="577.00" y="544.29" class="wm">76–116</text>
<text x="630.80" y="544.29" class="ms">29. 9–45. 7</text>
<text transform="translate(704.30,544.29) scale(0.915,1)" class="mm">120</text>
<text transform="translate(751.10,544.29) scale(0.915,1)" class="mm">47. 24</text>
<text x="53.60" y="565.51" class="ml" textLength="20" lengthAdjust="spacingAndGlyphs">XL</text>
<text transform="translate(140.80,565.31) scale(0.915,1)" class="mm">76</text>
<text transform="translate(176.30,565.31) scale(0.915,1)" class="mm">29. 92</text>
<text transform="translate(248.00,565.31) scale(0.915,1)" class="mm">124</text>
<text transform="translate(293.00,565.31) scale(0.915,1)" class="mm">48. 82</text>
<text x="374.30" y="565.31" text-anchor="middle" class="bn">64</text>
<text x="414.00" y="565.31" class="bn">25.2</text>
<text x="488.30" y="565.31" text-anchor="middle" class="bn">109</text>
<text x="527.90" y="565.31" class="bn">42.91</text>
<text x="577.00" y="565.31" class="wm">80–122</text>
<text x="630.80" y="565.31" class="ms">31. 4–48</text>
<text transform="translate(707.30,565.31) scale(0.915,1)" class="mm">126</text>
<text transform="translate(751.10,565.31) scale(0.915,1)" class="mm">49. 61</text>
<text x="43.40" y="586.54" class="ml" textLength="30.2" lengthAdjust="spacingAndGlyphs">2XL</text>
<text transform="translate(140.80,586.34) scale(0.915,1)" class="mm">78</text>
<text transform="translate(176.30,586.34) scale(0.915,1)" class="mm">30. 71</text>
<text transform="translate(248.00,586.34) scale(0.915,1)" class="mm">130</text>
<text transform="translate(293.00,586.34) scale(0.915,1)" class="mm">51. 18</text>
<text x="374.30" y="586.34" text-anchor="middle" class="bn">65</text>
<text x="414.00" y="586.34" class="bn">25.59</text>
<text x="488.30" y="586.34" text-anchor="middle" class="bn">110</text>
<text x="527.90" y="586.34" class="bn">43.31</text>
<text x="577.00" y="586.34" class="wm">84–128</text>
<text x="630.80" y="586.34" class="ms">33. 1–50. 4</text>
<text transform="translate(704.30,586.34) scale(0.915,1)" class="mm">132</text>
<text transform="translate(751.10,586.34) scale(0.915,1)" class="mm">51. 97</text>
<text x="43.40" y="607.57" class="ml" textLength="30.2" lengthAdjust="spacingAndGlyphs">3XL</text>
<text transform="translate(140.80,607.37) scale(0.915,1)" class="mm">80</text>
<text transform="translate(176.30,607.37) scale(0.915,1)" class="mm">31. 5</text>
<text transform="translate(248.00,607.37) scale(0.915,1)" class="mm">136</text>
<text transform="translate(293.00,607.37) scale(0.915,1)" class="mm">53. 54</text>
<text x="374.30" y="607.37" text-anchor="middle" class="bn">66</text>
<text x="414.00" y="607.37" class="bn">25.98</text>
<text x="488.30" y="607.37" text-anchor="middle" class="bn">113</text>
<text x="527.90" y="607.37" class="bn">44.49</text>
<text x="577.00" y="607.37" class="wm">88–134</text>
<text x="630.80" y="607.37" class="ms">34. 6–52. 8</text>
<text transform="translate(704.30,607.37) scale(0.915,1)" class="mm">138</text>
<text transform="translate(751.10,607.37) scale(0.915,1)" class="mm">54. 33</text>
<text x="43.40" y="628.60" class="ml" textLength="30.2" lengthAdjust="spacingAndGlyphs">4XL</text>
<text transform="translate(140.80,628.40) scale(0.915,1)" class="mm">82</text>
<text transform="translate(176.30,628.40) scale(0.915,1)" class="mm">32. 28</text>
<text transform="translate(248.00,628.40) scale(0.915,1)" class="mm">142</text>
<text transform="translate(293.00,628.40) scale(0.915,1)" class="mm">55. 91</text>
<text x="374.30" y="628.40" text-anchor="middle" class="bn">67</text>
<text x="414.00" y="628.40" class="bn">26.38</text>
<text x="488.30" y="628.40" text-anchor="middle" class="bn">115</text>
<text x="527.90" y="628.40" class="bn">45.28</text>
<text x="577.00" y="628.40" class="wm">92–140</text>
<text x="630.80" y="628.40" class="ms">36. 2–55. 1</text>
<text transform="translate(704.30,628.40) scale(0.915,1)" class="mm">144</text>
<text transform="translate(751.10,628.40) scale(0.915,1)" class="mm">56. 69</text>
<rect x="1.00" y="631.40" width="798.40" height="24.90" fill="#c48cf6"/>
<rect x="1.00" y="656.30" width="116.60" height="25.00" fill="#efefef"/>
<rect x="117.60" y="656.30" width="681.80" height="25.00" fill="#a8f06e"/>
<rect x="1.00" y="681.30" width="798.40" height="170.90" fill="#efefef"/>
<path d="M1.00,681.30H799.40 M1.00,705.71H799.40 M1.00,730.13H799.40 M1.00,754.54H799.40 M1.00,778.96H799.40 M1.00,803.37H799.40 M1.00,827.79H799.40 M1.00,852.20H799.40 M117.60,681.30V852.20 M232.60,681.30V852.20 M346.00,681.30V852.20 M459.40,681.30V852.20 M573.60,681.30V852.20 M687.00,681.30V852.20 M174.50,681.30V852.20 M289.00,681.30V852.20 M402.80,681.30V852.20 M516.20,681.30V852.20 M630.00,681.30V852.20 M743.60,681.30V852.20" stroke="#ffffff" stroke-width="3.6" opacity="0.85" fill="none"/>
<line x1="1.00" y1="631.40" x2="799.40" y2="631.40" stroke="#5a2a6a" stroke-width="1.5"/>
<line x1="1.00" y1="656.30" x2="117.60" y2="656.30" stroke="#7a5a9e" stroke-width="1.5"/>
<line x1="117.60" y1="656.30" x2="799.40" y2="656.30" stroke="#3a4a30" stroke-width="1.3"/>
<line x1="1.00" y1="681.30" x2="799.40" y2="681.30" stroke="#2e2e2e" stroke-width="1.4"/>
<line x1="1.00" y1="705.71" x2="799.40" y2="705.71" stroke="#2e2e2e" stroke-width="1.4"/>
<line x1="1.00" y1="730.13" x2="799.40" y2="730.13" stroke="#2e2e2e" stroke-width="1.4"/>
<line x1="1.00" y1="754.54" x2="799.40" y2="754.54" stroke="#2e2e2e" stroke-width="1.4"/>
<line x1="1.00" y1="778.96" x2="799.40" y2="778.96" stroke="#2e2e2e" stroke-width="1.4"/>
<line x1="1.00" y1="803.37" x2="799.40" y2="803.37" stroke="#2e2e2e" stroke-width="1.4"/>
<line x1="1.00" y1="827.79" x2="799.40" y2="827.79" stroke="#2e2e2e" stroke-width="1.4"/>
<line x1="1.00" y1="852.20" x2="799.40" y2="852.20" stroke="#2e2e2e" stroke-width="1.4"/>
<line x1="1.40" y1="681.30" x2="1.40" y2="852.20" stroke="#333" stroke-width="1.1"/>
<line x1="117.60" y1="631.40" x2="117.60" y2="852.20" stroke="#2e2e2e" stroke-width="1.4"/>
<line x1="232.60" y1="631.40" x2="232.60" y2="852.20" stroke="#2e2e2e" stroke-width="1.4"/>
<line x1="346.00" y1="631.40" x2="346.00" y2="852.20" stroke="#2e2e2e" stroke-width="1.4"/>
<line x1="459.40" y1="631.40" x2="459.40" y2="852.20" stroke="#2e2e2e" stroke-width="1.4"/>
<line x1="573.60" y1="631.40" x2="573.60" y2="852.20" stroke="#2e2e2e" stroke-width="1.4"/>
<line x1="687.00" y1="631.40" x2="687.00" y2="852.20" stroke="#2e2e2e" stroke-width="1.4"/>
<line x1="799.40" y1="631.40" x2="799.40" y2="852.20" stroke="#999" stroke-width="1.0"/>
<line x1="174.50" y1="656.30" x2="174.50" y2="852.20" stroke="#2e2e2e" stroke-width="1.4"/>
<line x1="289.00" y1="656.30" x2="289.00" y2="852.20" stroke="#2e2e2e" stroke-width="1.4"/>
<line x1="402.80" y1="656.30" x2="402.80" y2="852.20" stroke="#2e2e2e" stroke-width="1.4"/>
<line x1="516.20" y1="656.30" x2="516.20" y2="852.20" stroke="#2e2e2e" stroke-width="1.4"/>
<line x1="630.00" y1="656.30" x2="630.00" y2="852.20" stroke="#2e2e2e" stroke-width="1.4"/>
<line x1="743.60" y1="656.30" x2="743.60" y2="852.20" stroke="#2e2e2e" stroke-width="1.4"/>
<text x="59.30" y="649.40" text-anchor="middle" class="hd">Womens</text>
<text x="175.10" y="649.40" text-anchor="middle" class="hd">Top Length</text>
<text x="146.05" y="675.70" text-anchor="middle" class="sh">cm</text>
<text x="203.55" y="675.70" text-anchor="middle" class="sh">Inch</text>
<text x="289.30" y="649.40" text-anchor="middle" class="hd">Bust</text>
<text x="260.80" y="675.70" text-anchor="middle" class="sh">cm</text>
<text x="317.50" y="675.70" text-anchor="middle" class="sh">Inch</text>
<text x="402.70" y="649.40" text-anchor="middle" class="hd">Sleeve Length</text>
<text x="374.40" y="675.70" text-anchor="middle" class="sh">cm</text>
<text x="431.10" y="675.70" text-anchor="middle" class="sh">Inch</text>
<text x="516.50" y="649.40" text-anchor="middle" class="hd">Pants Length</text>
<text x="487.80" y="675.70" text-anchor="middle" class="sh">cm</text>
<text x="544.90" y="675.70" text-anchor="middle" class="sh">Inch</text>
<text x="630.30" y="649.40" text-anchor="middle" class="hd">Waist</text>
<text x="601.80" y="675.70" text-anchor="middle" class="sh">cm</text>
<text x="658.50" y="675.70" text-anchor="middle" class="sh">Inch</text>
<text x="743.20" y="649.40" text-anchor="middle" class="hd">Hip</text>
<text x="715.30" y="675.70" text-anchor="middle" class="sh">cm</text>
<text x="771.50" y="675.70" text-anchor="middle" class="sh">Inch</text>
<text x="57.80" y="700.51" class="wl" textLength="9.2" lengthAdjust="spacingAndGlyphs">S</text>
<text transform="translate(136.30,700.71) scale(0.915,1)" class="mw">64</text>
<text transform="translate(175.80,700.71) scale(0.915,1)" class="mw">25. 19</text>
<text transform="translate(245.80,700.71) scale(0.915,1)" class="mw">97</text>
<text transform="translate(293.00,700.71) scale(0.915,1)" class="mw">38. 19</text>
<text transform="translate(396.00,700.71) scale(0.915,1)" text-anchor="end" class="mw">56. 5</text>
<text transform="translate(411.10,700.71) scale(0.915,1)" class="mw">22. 24</text>
<text x="474.00" y="700.71" class="bn">100</text>
<text x="528.70" y="700.71" class="bn">39.37</text>
<text x="576.20" y="700.71" class="ww">64–101</text>
<text x="630.00" y="700.71" class="ms">25. 2–39. 8</text>
<text x="704.60" y="700.71" class="bn">102</text>
<text x="775.50" y="700.71" text-anchor="middle" class="bn">40.16</text>
<text x="55.20" y="724.93" class="wl" textLength="9.8" lengthAdjust="spacingAndGlyphs">M</text>
<text transform="translate(139.00,725.13) scale(0.915,1)" class="mw">66</text>
<text transform="translate(178.00,725.13) scale(0.915,1)" class="mw">25. 98</text>
<text transform="translate(245.80,725.13) scale(0.915,1)" class="mw">102</text>
<text transform="translate(293.00,725.13) scale(0.915,1)" class="mw">40. 16</text>
<text transform="translate(396.00,725.13) scale(0.915,1)" text-anchor="end" class="mw">57. 5</text>
<text transform="translate(411.10,725.13) scale(0.915,1)" class="mw">22. 64</text>
<text x="474.00" y="725.13" class="bn">102</text>
<text x="528.70" y="725.13" class="bn">40.16</text>
<text x="576.20" y="725.13" class="ww">68–106</text>
<text x="630.00" y="725.13" class="ms">26. 8–41. 7</text>
<text x="704.60" y="725.13" class="bn">107</text>
<text x="775.50" y="725.13" text-anchor="middle" class="bn">42.13</text>
<text x="55.60" y="749.34" class="wl" textLength="8.4" lengthAdjust="spacingAndGlyphs">L</text>
<text transform="translate(139.00,749.54) scale(0.915,1)" class="mw">68</text>
<text transform="translate(178.00,749.54) scale(0.915,1)" class="mw">26. 77</text>
<text transform="translate(250.10,749.54) scale(0.915,1)" class="mw">107</text>
<text transform="translate(296.50,749.54) scale(0.915,1)" class="mw">42. 13</text>
<text transform="translate(396.00,749.54) scale(0.915,1)" text-anchor="end" class="mw">58. 5</text>
<text transform="translate(411.10,749.54) scale(0.915,1)" class="mw">23. 03</text>
<text x="474.00" y="749.54" class="bn">104</text>
<text x="528.70" y="749.54" class="bn">40.94</text>
<text x="577.00" y="749.54" class="ww">72–111</text>
<text x="630.00" y="749.54" class="ms">28. 3–43. 7</text>
<text x="704.60" y="749.54" class="bn">112</text>
<text x="775.50" y="749.54" text-anchor="middle" class="bn">44.09</text>
<text x="44.60" y="773.76" class="wl" textLength="19.4" lengthAdjust="spacingAndGlyphs">XL</text>
<text transform="translate(139.00,773.96) scale(0.915,1)" class="mw">70</text>
<text transform="translate(178.00,773.96) scale(0.915,1)" class="mw">27. 56</text>
<text transform="translate(250.10,773.96) scale(0.915,1)" class="mw">112</text>
<text transform="translate(296.50,773.96) scale(0.915,1)" class="mw">44. 09</text>
<text transform="translate(396.00,773.96) scale(0.915,1)" text-anchor="end" class="mw">59. 5</text>
<text transform="translate(411.10,773.96) scale(0.915,1)" class="mw">23. 43</text>
<text x="474.00" y="773.96" class="bn">106</text>
<text x="528.70" y="773.96" class="bn">41.73</text>
<text x="577.00" y="773.96" class="ww">76–116</text>
<text x="630.00" y="773.96" class="ms">29. 9–45. 7</text>
<text x="704.60" y="773.96" class="bn">117</text>
<text x="775.50" y="773.96" text-anchor="middle" class="bn">46.06</text>
<text x="44.60" y="798.17" class="wl" textLength="29.9" lengthAdjust="spacingAndGlyphs">2XL</text>
<text transform="translate(139.00,798.37) scale(0.915,1)" class="mw">72</text>
<text transform="translate(178.00,798.37) scale(0.915,1)" class="mw">28. 35</text>
<text transform="translate(250.10,798.37) scale(0.915,1)" class="mw">117</text>
<text transform="translate(296.50,798.37) scale(0.915,1)" class="mw">46. 06</text>
<text transform="translate(396.00,798.37) scale(0.915,1)" text-anchor="end" class="mw">60. 5</text>
<text transform="translate(411.10,798.37) scale(0.915,1)" class="mw">23. 82</text>
<text x="474.00" y="798.37" class="bn">108</text>
<text x="528.70" y="798.37" class="bn">42.52</text>
<text x="577.00" y="798.37" class="ww">80–121</text>
<text x="630.00" y="798.37" class="ms">31. 5–47. 6</text>
<text x="704.60" y="798.37" class="bn">122</text>
<text x="775.50" y="798.37" text-anchor="middle" class="bn">48.03</text>
<text x="44.60" y="822.59" class="wl" textLength="29.9" lengthAdjust="spacingAndGlyphs">3XL</text>
<text transform="translate(139.00,822.79) scale(0.915,1)" class="mw">74</text>
<text transform="translate(175.80,822.79) scale(0.915,1)" class="mw">29. 13</text>
<text transform="translate(250.10,822.79) scale(0.915,1)" class="mw">122</text>
<text transform="translate(293.00,822.79) scale(0.915,1)" class="mw">48. 03</text>
<text transform="translate(396.00,822.79) scale(0.915,1)" text-anchor="end" class="mw">61. 5</text>
<text transform="translate(411.10,822.79) scale(0.915,1)" class="mw">24. 21</text>
<text x="474.00" y="822.79" class="bn">110</text>
<text x="528.70" y="822.79" class="bn">43.31</text>
<text x="574.00" y="822.79" class="ww">84–126</text>
<text x="630.00" y="822.79" class="ms">33. 1–49. 6</text>
<text x="704.60" y="822.79" class="bn">127</text>
<text x="775.50" y="822.79" text-anchor="middle" class="bn">50</text>
<text x="44.60" y="847.00" class="wl" textLength="29.9" lengthAdjust="spacingAndGlyphs">4XL</text>
<text transform="translate(139.00,847.20) scale(0.915,1)" class="mw">76</text>
<text transform="translate(178.00,847.20) scale(0.915,1)" class="mw">29. 92</text>
<text transform="translate(250.10,847.20) scale(0.915,1)" class="mw">127</text>
<text transform="translate(293.00,847.20) scale(0.915,1)" class="mw">50</text>
<text transform="translate(396.00,847.20) scale(0.915,1)" text-anchor="end" class="mw">62. 5</text>
<text transform="translate(411.10,847.20) scale(0.915,1)" class="mw">24. 61</text>
<text x="474.00" y="847.20" class="bn">112</text>
<text x="528.70" y="847.20" class="bn">44.09</text>
<text x="574.00" y="847.20" class="ww">88–131</text>
<text x="630.00" y="847.20" class="ms">34. 6–51. 6</text>
<text x="704.60" y="847.20" class="bn">132</text>
<text x="775.50" y="847.20" text-anchor="middle" class="bn">51.97</text>
<rect x="460.00" y="852.90" width="340.00" height="124.50" fill="#efefef"/>
<rect x="1.00" y="852.40" width="458.40" height="20.00" fill="#c48cf6"/>
<rect x="1.00" y="872.40" width="116.60" height="21.50" fill="#efefef"/>
<rect x="117.60" y="872.40" width="341.80" height="21.50" fill="#a8f06e"/>
<rect x="1.00" y="893.90" width="458.40" height="83.90" fill="#efefef"/>
<path d="M1.00,893.90H459.40 M1.00,914.75H459.40 M1.00,936.10H459.40 M1.00,956.40H459.40 M1.00,977.80H459.40 M117.60,893.90V977.80 M232.60,893.90V977.80 M346.00,893.90V977.80 M459.40,893.90V977.80 M174.50,893.90V977.80 M289.00,893.90V977.80 M402.80,893.90V977.80" stroke="#ffffff" stroke-width="3.6" opacity="0.85" fill="none"/>
<line x1="1.00" y1="852.40" x2="459.40" y2="852.40" stroke="#5a2a6a" stroke-width="1.5"/>
<line x1="1.00" y1="872.40" x2="117.60" y2="872.40" stroke="#7a5a9e" stroke-width="1.5"/>
<line x1="117.60" y1="872.40" x2="459.40" y2="872.40" stroke="#3a4a30" stroke-width="1.3"/>
<line x1="1.00" y1="893.90" x2="459.40" y2="893.90" stroke="#2e2e2e" stroke-width="1.4"/>
<line x1="1.00" y1="914.75" x2="459.40" y2="914.75" stroke="#2e2e2e" stroke-width="1.4"/>
<line x1="1.00" y1="936.10" x2="459.40" y2="936.10" stroke="#2e2e2e" stroke-width="1.4"/>
<line x1="1.00" y1="956.40" x2="459.40" y2="956.40" stroke="#2e2e2e" stroke-width="1.4"/>
<line x1="1.00" y1="977.80" x2="459.40" y2="977.80" stroke="#2e2e2e" stroke-width="1.4"/>
<line x1="1.40" y1="893.90" x2="1.40" y2="977.80" stroke="#333" stroke-width="1.1"/>
<line x1="117.60" y1="852.40" x2="117.60" y2="977.80" stroke="#2e2e2e" stroke-width="1.4"/>
<line x1="232.60" y1="852.40" x2="232.60" y2="977.80" stroke="#2e2e2e" stroke-width="1.4"/>
<line x1="346.00" y1="852.40" x2="346.00" y2="977.80" stroke="#2e2e2e" stroke-width="1.4"/>
<line x1="459.40" y1="852.40" x2="459.40" y2="977.80" stroke="#2e2e2e" stroke-width="1.4"/>
<line x1="174.50" y1="872.40" x2="174.50" y2="977.80" stroke="#2e2e2e" stroke-width="1.4"/>
<line x1="289.00" y1="872.40" x2="289.00" y2="977.80" stroke="#2e2e2e" stroke-width="1.4"/>
<line x1="402.80" y1="872.40" x2="402.80" y2="977.80" stroke="#2e2e2e" stroke-width="1.4"/>
<text x="59.30" y="869.90" text-anchor="middle" class="hb">Baby</text>
<text x="175.10" y="869.90" text-anchor="middle" class="hd">Top Length</text>
<text x="146.05" y="891.40" text-anchor="middle" class="sh">cm</text>
<text x="203.55" y="891.40" text-anchor="middle" class="sh">Inch</text>
<text x="289.30" y="869.90" text-anchor="middle" class="hd">Bust</text>
<text x="260.80" y="891.40" text-anchor="middle" class="sh">cm</text>
<text x="317.50" y="891.40" text-anchor="middle" class="sh">Inch</text>
<text x="402.70" y="869.90" text-anchor="middle" class="hd">Sleeve Length</text>
<text x="374.40" y="891.40" text-anchor="middle" class="sh">cm</text>
<text x="431.10" y="891.40" text-anchor="middle" class="sh">Inch</text>
<text x="13.90" y="909.15" class="bl">60(3–6M)</text>
<text x="135.10" y="909.15" class="mb">56</text>
<text x="178.90" y="909.15" class="mb">22. 05</text>
<text x="248.80" y="909.15" class="mb">53</text>
<text x="292.90" y="909.15" class="mb">20. 87</text>
<text x="353.80" y="909.15" class="mb">25. 6</text>
<text x="405.70" y="909.15" class="mb">10. 08</text>
<text x="13.90" y="934.30" class="bl">65(6–9M)</text>
<text x="135.10" y="934.30" class="mb">60</text>
<text x="178.90" y="934.30" class="mb">23. 62</text>
<text x="239.80" y="934.30" class="mb">54. 5</text>
<text x="292.90" y="934.30" class="mb">21. 46</text>
<text x="353.80" y="934.30" class="mb">26. 3</text>
<text x="405.70" y="934.30" class="mb">10. 35</text>
<text x="13.90" y="954.10" class="bl">70(9–12M)</text>
<text x="135.10" y="954.10" class="mb">64</text>
<text x="178.90" y="954.10" class="mb">25. 2</text>
<text x="248.80" y="954.10" class="mb">56</text>
<text x="292.90" y="954.10" class="mb">22. 05</text>
<text x="362.80" y="954.10" class="mb">27</text>
<text x="405.70" y="954.10" class="mb">10. 63</text>
<text x="5.40" y="973.30" class="bl">75(12–18M)</text>
<text x="135.10" y="973.30" class="mb">68</text>
<text x="178.90" y="973.30" class="mb">26. 77</text>
<text x="248.80" y="973.30" class="mb">58</text>
<text x="292.90" y="973.30" class="mb">22. 83</text>
<text x="353.80" y="973.30" class="mb">28. 5</text>
<text x="405.70" y="973.30" class="mb">11. 22</text>
<text x="549.30" y="886.00" text-anchor="middle" class="dg">Dog</text>
<text x="612.30" y="886.00" text-anchor="middle" class="dg">Length</text>
<text x="678.20" y="886.00" text-anchor="middle" class="dg">Chest</text>
<text x="735.00" y="886.00" text-anchor="middle" class="dg">Neck</text>
<text x="549.30" y="905.60" text-anchor="middle" class="dg">S</text>
<text x="612.30" y="905.60" text-anchor="middle" class="dg">26</text>
<text x="678.20" y="905.60" text-anchor="middle" class="dg">39</text>
<text x="735.00" y="905.60" text-anchor="middle" class="dg">32</text>
<text x="549.30" y="926.00" text-anchor="middle" class="dg">M</text>
<text x="612.30" y="926.00" text-anchor="middle" class="dg">33</text>
<text x="678.20" y="926.00" text-anchor="middle" class="dg">49</text>
<text x="735.00" y="926.00" text-anchor="middle" class="dg">36</text>
<text x="549.30" y="946.40" text-anchor="middle" class="dg">L</text>
<text x="612.30" y="946.40" text-anchor="middle" class="dg">42</text>
<text x="678.20" y="946.40" text-anchor="middle" class="dg">59</text>
<text x="735.00" y="946.40" text-anchor="middle" class="dg">40</text>
<text x="549.30" y="967.00" text-anchor="middle" class="dg">XL</text>
<text x="612.30" y="967.00" text-anchor="middle" class="dg">52</text>
<text x="678.20" y="967.00" text-anchor="middle" class="dg">69</text>
<text x="735.00" y="967.00" text-anchor="middle" class="dg">44</text>
</svg>
</body></html>
